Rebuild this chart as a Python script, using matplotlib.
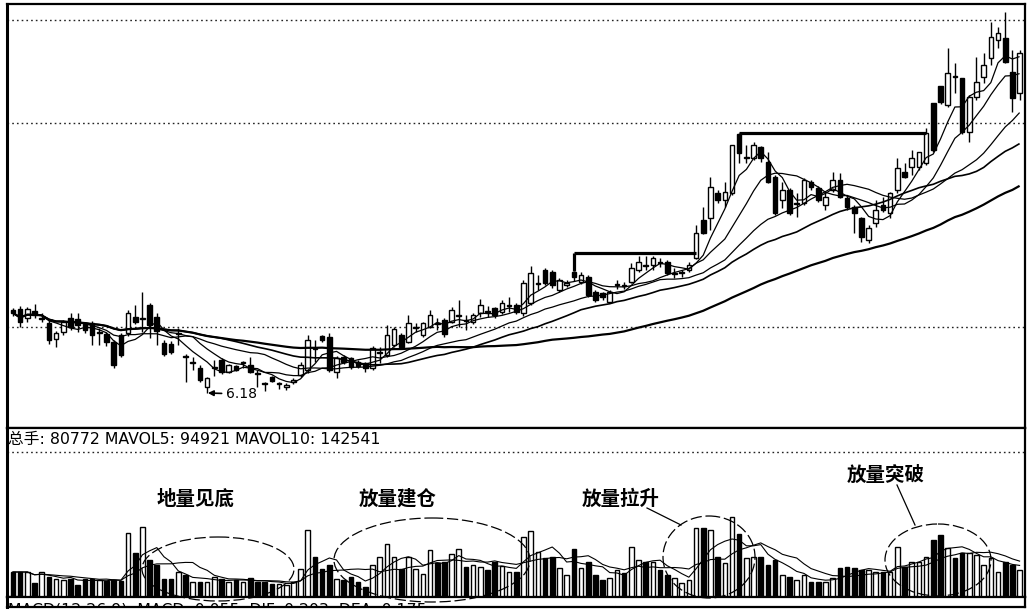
import numpy as np
import pandas as pd
import matplotlib
matplotlib.use("Agg")
import matplotlib.pyplot as plt
from matplotlib.patches import Ellipse

# ---- daily prices (yuan) ----
opens = [7.01, 7.02, 6.93, 7.00, 6.92, 6.88, 6.72, 6.79, 6.93, 6.92,
         6.87, 6.88, 6.78, 6.77, 6.69, 6.76, 6.78, 6.94, 6.92, 7.06,
         6.94, 6.68, 6.67, 6.77, 6.55, 6.48, 6.43, 6.24, 6.43, 6.51,
         6.39, 6.45, 6.48, 6.46, 6.38, 6.28, 6.34, 6.27, 6.24, 6.29,
         6.36, 6.41, 6.63, 6.75, 6.74, 6.39, 6.54, 6.53, 6.49, 6.48,
         6.43, 6.58, 6.56, 6.66, 6.76, 6.69, 6.83, 6.76, 6.84, 6.88,
         6.91, 6.89, 6.95, 6.91, 6.89, 6.98, 7.00, 7.03, 6.99, 7.05,
         7.06, 6.98, 7.08, 7.27, 7.41, 7.39, 7.21, 7.26, 7.39, 7.29,
         7.34, 7.19, 7.18, 7.09, 7.26, 7.26, 7.29, 7.41, 7.46, 7.46,
         7.49, 7.49, 7.37, 7.38, 7.41, 7.53, 7.91, 7.93, 8.18, 8.11,
         8.18, 8.77, 8.53, 8.53, 8.64, 8.49, 8.34, 8.11, 8.21, 8.07,
         8.08, 8.29, 8.23, 8.06, 8.21, 8.31, 8.13, 8.04, 7.93, 7.71,
         7.88, 8.06, 7.98, 8.21, 8.39, 8.44, 8.44, 8.48, 9.08, 9.25,
         9.06, 9.35, 9.33, 8.79, 9.14, 9.34, 9.53, 9.71, 9.73, 9.39,
         9.18]
highs = [7.03, 7.05, 7.04, 7.07, 6.98, 6.91, 6.80, 6.91, 6.98, 6.98,
         6.89, 6.90, 6.83, 6.79, 6.71, 6.78, 7.01, 7.06, 7.19, 7.08,
         6.98, 6.71, 6.70, 6.83, 6.57, 6.54, 6.46, 6.34, 6.51, 6.53,
         6.47, 6.46, 6.50, 6.54, 6.41, 6.29, 6.35, 6.29, 6.28, 6.33,
         6.49, 6.76, 6.71, 6.76, 6.78, 6.55, 6.56, 6.54, 6.51, 6.49,
         6.65, 6.64, 6.86, 6.84, 6.78, 6.96, 6.88, 6.89, 7.01, 6.93,
         6.93, 7.04, 7.11, 6.96, 6.98, 7.12, 7.05, 7.04, 7.11, 7.14,
         7.08, 7.31, 7.45, 7.36, 7.43, 7.41, 7.33, 7.31, 7.40, 7.39,
         7.36, 7.21, 7.19, 7.21, 7.31, 7.29, 7.48, 7.55, 7.55, 7.55,
         7.53, 7.51, 7.43, 7.41, 7.49, 7.86, 8.04, 8.34, 8.21, 8.29,
         8.66, 8.78, 8.66, 8.69, 8.65, 8.59, 8.36, 8.29, 8.23, 8.18,
         8.33, 8.31, 8.25, 8.19, 8.39, 8.38, 8.15, 8.06, 7.94, 7.86,
         8.11, 8.14, 8.19, 8.53, 8.48, 8.61, 8.59, 8.83, 9.08, 9.25,
         9.63, 9.48, 9.33, 9.16, 9.54, 9.58, 9.89, 9.84, 9.99, 9.61,
         9.61]
lows = [6.95, 6.84, 6.89, 6.93, 6.89, 6.67, 6.64, 6.76, 6.81, 6.79,
        6.78, 6.66, 6.66, 6.65, 6.43, 6.54, 6.75, 6.87, 6.79, 6.73,
        6.66, 6.55, 6.57, 6.66, 6.29, 6.41, 6.29, 6.18, 6.35, 6.37,
        6.38, 6.40, 6.43, 6.38, 6.24, 6.20, 6.29, 6.22, 6.21, 6.27,
        6.34, 6.38, 6.49, 6.69, 6.39, 6.33, 6.47, 6.42, 6.43, 6.39,
        6.41, 6.48, 6.54, 6.64, 6.62, 6.68, 6.79, 6.74, 6.83, 6.81,
        6.74, 6.88, 6.84, 6.81, 6.87, 6.94, 6.94, 6.93, 6.97, 6.99,
        6.97, 6.95, 7.06, 7.21, 7.26, 7.23, 7.19, 7.24, 7.30, 7.27,
        7.14, 7.09, 7.11, 7.08, 7.22, 7.22, 7.28, 7.39, 7.41, 7.41,
        7.44, 7.36, 7.33, 7.34, 7.39, 7.52, 7.77, 7.81, 8.08, 8.04,
        8.16, 8.48, 8.48, 8.51, 8.49, 8.28, 7.96, 8.03, 7.96, 7.94,
        8.06, 8.21, 8.09, 8.01, 8.19, 8.13, 8.01, 7.78, 7.69, 7.68,
        7.84, 7.99, 7.93, 8.18, 8.33, 8.36, 8.41, 8.46, 8.59, 9.07,
        9.04, 9.18, 8.77, 8.69, 9.11, 9.28, 9.46, 9.63, 9.48, 8.99,
        9.11]
closes = [6.98, 6.89, 7.02, 6.96, 6.93, 6.71, 6.78, 6.89, 6.84, 6.86,
          6.81, 6.76, 6.79, 6.69, 6.46, 6.56, 6.98, 6.89, 6.93, 6.86,
          6.80, 6.57, 6.59, 6.78, 6.54, 6.49, 6.31, 6.33, 6.44, 6.39,
          6.46, 6.41, 6.49, 6.39, 6.37, 6.27, 6.30, 6.28, 6.26, 6.31,
          6.46, 6.71, 6.62, 6.71, 6.41, 6.53, 6.49, 6.44, 6.45, 6.43,
          6.63, 6.59, 6.76, 6.82, 6.64, 6.88, 6.84, 6.88, 6.96, 6.87,
          6.77, 7.01, 6.96, 6.90, 6.96, 7.06, 6.99, 6.96, 7.08, 7.06,
          6.99, 7.28, 7.38, 7.28, 7.28, 7.26, 7.31, 7.28, 7.34, 7.36,
          7.16, 7.11, 7.14, 7.19, 7.27, 7.25, 7.43, 7.49, 7.45, 7.53,
          7.48, 7.38, 7.38, 7.39, 7.46, 7.78, 7.78, 8.24, 8.11, 8.19,
          8.66, 8.58, 8.54, 8.66, 8.53, 8.29, 7.98, 8.21, 7.98, 8.08,
          8.31, 8.24, 8.11, 8.14, 8.31, 8.14, 8.04, 7.98, 7.74, 7.83,
          8.01, 8.01, 8.18, 8.43, 8.34, 8.53, 8.59, 8.78, 8.61, 9.09,
          9.38, 9.34, 8.79, 9.14, 9.29, 9.46, 9.74, 9.78, 9.49, 9.13,
          9.58]
# ---- daily volume (lots, 手) ----
volumes = [75000, 75000, 75000, 42000, 75000, 60000, 54000, 51000, 54000, 36000,
           54000, 54000, 51000, 48000, 51000, 48000, 192000, 132000, 210000, 111000,
           96000, 54000, 54000, 75000, 66000, 45000, 45000, 45000, 60000, 54000,
           45000, 51000, 45000, 57000, 45000, 45000, 39000, 39000, 36000, 45000,
           84000, 201000, 120000, 84000, 96000, 54000, 51000, 60000, 45000, 30000,
           96000, 120000, 159000, 120000, 84000, 120000, 84000, 69000, 141000, 102000,
           105000, 129000, 144000, 90000, 96000, 90000, 81000, 105000, 93000, 75000,
           75000, 180000, 198000, 135000, 117000, 120000, 87000, 66000, 144000, 87000,
           105000, 66000, 51000, 57000, 81000, 72000, 150000, 111000, 105000, 105000,
           81000, 66000, 57000, 42000, 51000, 207000, 207000, 201000, 120000, 102000,
           240000, 189000, 117000, 120000, 120000, 96000, 111000, 66000, 60000, 51000,
           66000, 45000, 45000, 45000, 57000, 87000, 90000, 87000, 81000, 81000,
           75000, 75000, 75000, 150000, 90000, 105000, 105000, 120000, 171000, 186000,
           147000, 117000, 132000, 132000, 126000, 96000, 117000, 75000, 105000, 96000,
           80772]

ma_windows = [5, 10, 20, 30, 60]
grid_prices = [9.91, 8.88, 6.84]
# horizontal resistance levels: (start day, end day, price)
resistance = [(78, 95, 7.58), (101, 127, 8.78)]
low_day = 27

header = "总手: 80772 MAVOL5: 94921 MAVOL10: 142541"
macd_text = "MACD(12,26,9)  MACD: 0.055  DIF: 0.203  DEA: 0.175"
vol_notes = ["地量见底", "放量建仓", "放量拉升", "放量突破"]

o = np.array(opens); h = np.array(highs); l = np.array(lows); c = np.array(closes)
v = np.array(volumes, dtype=float)
n = len(c)
idx = np.arange(n)
up = c >= o
fills = np.where(up, "white", "black")

W, H = 1030, 613
fig = plt.figure(figsize=(W / 100, H / 100), dpi=100)
fig.patch.set_facecolor("white")


def box(x0, y0, x1, y1):
    return [x0 / W, 1 - y1 / H, (x1 - x0) / W, (y1 - y0) / H]


ax_p = fig.add_axes(box(7, 4, 1025, 428))
ax_v = fig.add_axes(box(7, 428, 1025, 597))
ax_s = fig.add_axes(box(7, 597, 1025, 607))

step = 7.19
x_lo, x_hi = (7 - 13) / step, (1025 - 13) / step
for ax in (ax_p, ax_v, ax_s):
    ax.set_xlim(x_lo, x_hi)
    ax.set_xticks([]); ax.set_yticks([])
    for sp in ax.spines.values():
        sp.set_linewidth(1.6)
        sp.set_color("black")
    ax.spines["left"].set_linewidth(2.2)

dot = (0, (1.2, 2.2))

# ---- price panel ----
ax_p.set_ylim(5.83, 10.07)
for gp in grid_prices:
    ax_p.axhline(gp, color="#222222", lw=1.0, ls=dot, zorder=1)

ax_p.vlines(idx, l, h, color="black", lw=1.0, zorder=2)
body_lo = np.minimum(o, c)
body_h = np.maximum(np.abs(c - o), 0.006)
ax_p.bar(idx, body_h, bottom=body_lo, width=0.64, color=fills,
         edgecolor="black", linewidth=1.0, zorder=3)

cs = pd.Series(c)
for w, lw in zip(ma_windows, [0.9, 0.9, 0.9, 1.2, 1.6]):
    ax_p.plot(idx, cs.rolling(w, min_periods=1).mean(), color="black",
              lw=lw, zorder=4, solid_capstyle="butt")

for d0, d1, lvl in resistance:
    ax_p.hlines(lvl, d0, d1, color="black", lw=2.3, zorder=5)
    if h[d0] < lvl:
        ax_p.vlines(d0, h[d0], lvl, color="black", lw=2.3, zorder=5)

ax_p.annotate(f"{l[low_day]:.2f}", xy=(low_day + 0.1, l[low_day]),
              xytext=(29.6, l[low_day] - 0.01), fontsize=10,
              ha="left", va="center", color="black",
              arrowprops=dict(arrowstyle="-|>", color="black", lw=1.2,
                              mutation_scale=8, shrinkA=1, shrinkB=0))

# ---- volume panel ----
ax_v.set_ylim(0, 507000)
ax_v.axhline(435000, color="#222222", lw=1.0, ls=dot, zorder=1)
ax_v.bar(idx, v, width=0.64, color=fills, edgecolor="black",
         linewidth=1.0, zorder=3)
vs = pd.Series(v)
for w in (5, 10):
    ax_v.plot(idx, vs.rolling(w, min_periods=1).mean(), color="black",
              lw=0.8, zorder=4)
ax_v.text(0.001, 0.929, header, transform=ax_v.transAxes, fontsize=11.3,
          ha="left", va="center", family=["DejaVu Sans", "Noto Sans CJK SC"])

# ---- indicator strip, only the top of its caption shows ----
ax_s.text(0.001, 0.45, macd_text, transform=ax_s.transAxes, fontsize=11.3,
          ha="left", va="top", clip_on=True,
          family=["DejaVu Sans", "Noto Sans CJK SC"])

# ---- volume notes (pixel overlay) ----
ax_o = fig.add_axes([0, 0, 1, 1], zorder=10)
ax_o.set_xlim(0, W); ax_o.set_ylim(H, 0)
ax_o.axis("off")
ax_o.patch.set_alpha(0)

circles = [((218, 569), 152, 64), ((432, 560), 196, 84),
           ((709, 557), 92, 82), ((938, 560), 106, 72)]
for (cx, cy), ew, eh in circles:
    ax_o.add_patch(Ellipse((cx, cy), ew, eh, fill=False, color="black",
                           lw=0.9, ls=(0, (9, 3))))

note_pos = [(196, 499), (398, 499), (621, 499), (886, 475)]
for txt, (tx, ty) in zip(vol_notes, note_pos):
    ax_o.text(tx, ty, txt, fontsize=14, fontweight="bold", ha="center",
              va="center", family=["Noto Sans CJK SC"])
ax_o.plot([647, 681], [508, 525], color="black", lw=0.9)
ax_o.plot([897, 915], [485, 525], color="black", lw=0.9)

fig.savefig("out.png", dpi=100, facecolor="white")
